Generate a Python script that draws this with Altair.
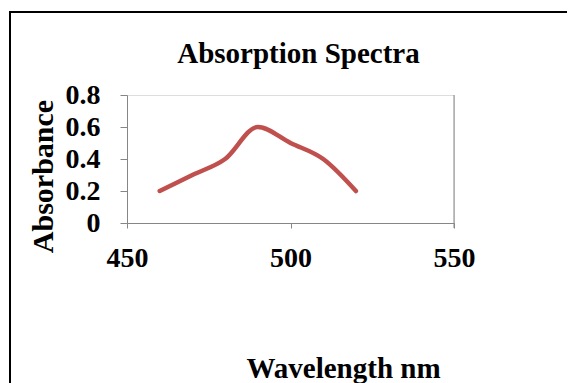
import altair as alt
import pandas as pd

wavelength = [460, 470, 480, 490, 500, 510, 520]
absorbance = [0.2, 0.3, 0.4, 0.6, 0.5, 0.4, 0.2]
x_ticks = [450, 500, 550]
y_ticks = [0, 0.2, 0.4, 0.6, 0.8]

df = pd.DataFrame({"Wavelength": wavelength, "Absorbance": absorbance})

FONT = "Liberation Serif"
AXIS_GRAY = "#868686"

line = alt.Chart(df).mark_line(
    color="#C0504D", strokeWidth=4.5, interpolate="monotone", strokeCap="round", strokeJoin="round"
).encode(
    x=alt.X("Wavelength:Q", scale=alt.Scale(domain=[450, 550], nice=False, zero=False),
            axis=alt.Axis(values=x_ticks, title="Wavelength nm", grid=False,
                          domainColor=AXIS_GRAY, tickColor=AXIS_GRAY, tickSize=5,
                          labelFont=FONT, labelFontSize=28, labelFontWeight="bold", labelColor="#000",
                          labelPadding=16, labelFlush=False,
                          titleFont=FONT, titleFontSize=29, titleFontWeight="bold", titleColor="#000",
                          titleX=216, titleY=154, titleBaseline="alphabetic", titleAnchor="start",
                          titleAlign="center")),
    y=alt.Y("Absorbance:Q", scale=alt.Scale(domain=[0, 0.8], nice=False),
            axis=alt.Axis(values=y_ticks, title="Absorbance", grid=False, format="~g",
                          domainColor=AXIS_GRAY, tickColor=AXIS_GRAY, tickSize=7,
                          labelFont=FONT, labelFontSize=28, labelFontWeight="bold", labelColor="#000",
                          labelPadding=20, labelFlush=False,
                          titleFont=FONT, titleFontSize=30, titleFontWeight="bold", titleColor="#000",
                          titleX=-75, titleY=81, titleBaseline="alphabetic", titleAngle=270,
                          titleAlign="center")),
)

right_edge = alt.Chart(pd.DataFrame({"x": [550]})).mark_rule(color=AXIS_GRAY, strokeWidth=1).encode(
    x=alt.X("x:Q"), y=alt.value(0), y2=alt.value(133)
)

frame_left = alt.Chart(pd.DataFrame({"a": [0]})).mark_rule(color="#000", strokeWidth=2).encode(
    x=alt.value(-117), y=alt.value(-83), y2=alt.value(400)
)
frame_top = alt.Chart(pd.DataFrame({"a": [0]})).mark_rule(color="#000", strokeWidth=2).encode(
    x=alt.value(-118), x2=alt.value(600), y=alt.value(-83)
)

chart = alt.layer(line, right_edge, frame_left, frame_top).properties(
    width=327, height=128,
    title=alt.Title("Absorption Spectra", font=FONT, fontSize=29, fontWeight="bold", color="#000",
                    anchor="middle", frame="group", dx=8, dy=81, baseline="alphabetic", offset=0),
    autosize=alt.AutoSizeParams(type="none"),
    padding={"left": 119, "top": 87, "right": 113, "bottom": 160},
).configure_view(stroke="#000", strokeWidth=1).configure(background="white")

chart.save("out.html", embed_options={"renderer": "svg", "actions": False})
